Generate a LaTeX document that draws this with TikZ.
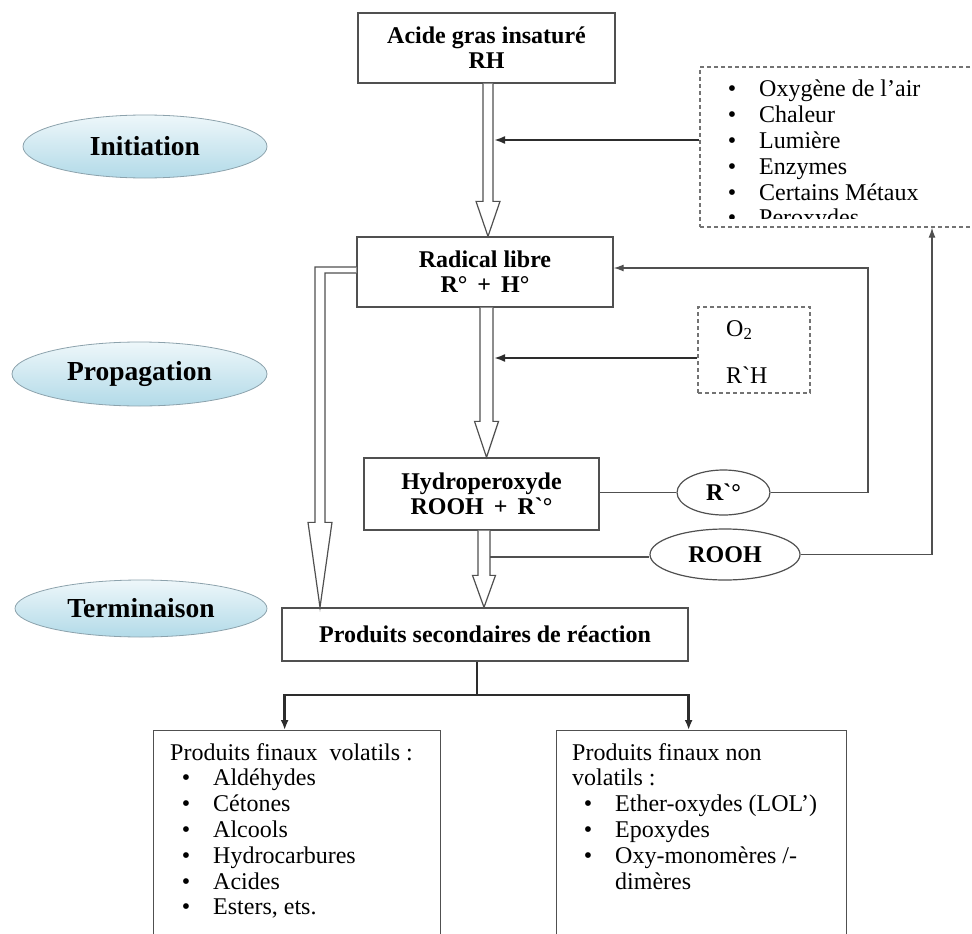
\documentclass[tikz,border=0pt]{standalone}
\usepackage{fontspec}
\setmainfont{Liberation Serif}[Ligatures=TeXOff]
\usetikzlibrary{shapes.geometric,arrows.meta,calc}

\definecolor{phasetop}{RGB}{238,247,250}
\definecolor{phasebot}{RGB}{178,218,232}
\definecolor{phaseedge}{RGB}{140,162,172}
\definecolor{ink}{RGB}{45,45,45}
\definecolor{frame}{RGB}{80,80,80}

\tikzset{
  box/.style={rectangle, draw=frame, line width=1.3pt, inner sep=0pt, align=center,
    font=\fontsize{24}{25}\selectfont\bfseries},
  plainbox/.style={rectangle, draw=frame, line width=1.3pt, inner sep=0pt},
  dbox/.style={rectangle, draw=frame!80, line width=1.3pt, inner sep=0pt,
    dash pattern=on 4pt off 3pt},
  phase/.style={ellipse, draw=phaseedge, line width=0.8pt, inner sep=0pt,
    top color=phasetop, bottom color=phasebot,
    font=\fontsize{27.5}{28}\selectfont\bfseries},
  oval/.style={ellipse, draw=frame, line width=1.2pt, inner sep=0pt, fill=white,
    font=\fontsize{24}{25}\selectfont\bfseries},
  list/.style={inner sep=0pt, align=left, font=\fontsize{24}{25.8}\selectfont},
  txt/.style={inner sep=0pt, font=\fontsize{24}{25}\selectfont},
  hollow/.style={draw=frame, line width=1.2pt, fill=white, line join=miter},
  feed/.style={draw=ink, line width=2pt, -{Latex[length=11pt,width=8pt]}},
  link/.style={draw=frame, line width=1.3pt},
  trunk/.style={draw=ink, line width=2.4pt},
}

% item bullet hanging to the left of the item text
\newcommand{\itemdot}{\llap{\textbullet\hspace{23pt}}}

% vertical block arrow: start point, end point, shaft half width, head half width, head length
\newcommand{\hollowdown}[5]{%
  \draw[hollow] let \p1=(#1), \p2=(#2) in
    ({\x1-#3pt},\y1) -- ({\x1-#3pt},{\y2+#5pt}) -- ({\x1-#4pt},{\y2+#5pt}) -- (\x1,\y2)
    -- ({\x1+#4pt},{\y2+#5pt}) -- ({\x1+#3pt},{\y2+#5pt}) -- ({\x1+#3pt},\y1);}

\begin{document}
\begin{tikzpicture}[x=1pt,y=-1pt]
\useasboundingbox (0,0) rectangle (972,934);
\clip (0,0) rectangle (972,934);

% phase labels
\node[phase, minimum width=244pt, minimum height=63pt] (init) at (145,146.5) {Initiation};
\node[phase, minimum width=255pt, minimum height=64pt] (prop) at (139.5,374) {Propagation};
\node[phase, minimum width=252pt, minimum height=57pt] (term) at (141,608.5) {Terminaison};

% main chain
\node[box, minimum width=257pt, minimum height=70pt] (acid) at (486.5,48) {Acide gras insaturé\\RH};
\node[box, minimum width=256pt, minimum height=70pt] (rad) at (485,272) {Radical libre\\R°\hspace{10pt}+\hspace{10pt}H°};
\node[box, minimum width=235pt, minimum height=72pt] (hyd) at (481.5,494) {Hydroperoxyde\\ROOH\hspace{10pt}+\hspace{10pt}R`°};
\node[box, minimum width=406pt, minimum height=53pt] (prod) at (485,634.5) {Produits secondaires de réaction};

% factors
\node[dbox, minimum width=300pt, minimum height=160pt] (ext) at (850,147) {};
\begin{scope}
  \clip (700,67) rectangle (972,218);
  \node[list, anchor=north west] (extt) at (759,80)
    {\itemdot Oxygène de l’air\\ \itemdot Chaleur\\ \itemdot Lumière\\
     \itemdot Enzymes\\ \itemdot Certains Métaux\\ \itemdot Peroxydes};
\end{scope}

\node[dbox, minimum width=112pt, minimum height=86pt] (o2) at (754,350) {};
\node[txt, anchor=west] (o2a) at (726,330) {O\textsubscript{2}};
\node[txt, anchor=west] (o2b) at (726,375) {R`H};

% recycled species
\node[oval, minimum width=93pt, minimum height=45pt] (rp) at (723.5,492.5) {R`°};
\node[oval, minimum width=150pt, minimum height=51pt] (rooh) at (725,554.5) {ROOH};

% final products
\node[plainbox, anchor=north west, minimum width=287pt, minimum height=260pt] (volb) at (153,730) {};
\node[plainbox, anchor=north west, minimum width=290pt, minimum height=260pt] (nvol) at (556,730) {};
\node[list, anchor=north west] (volt) at (170,743)
  {Produits finaux\ \ volatils :\\
   \hspace*{43pt}\itemdot Aldéhydes\\
   \hspace*{43pt}\itemdot Cétones\\
   \hspace*{43pt}\itemdot Alcools\\
   \hspace*{43pt}\itemdot Hydrocarbures\\
   \hspace*{43pt}\itemdot Acides\\
   \hspace*{43pt}\itemdot Esters, ets.};
\node[list, anchor=north west] (nvolt) at (572,743)
  {Produits finaux non\\
   volatils :\\
   \hspace*{43pt}\itemdot Ether-oxydes (LOL’)\\
   \hspace*{43pt}\itemdot Epoxydes\\
   \hspace*{43pt}\itemdot Oxy-monomères /-\\
   \hspace*{43pt}dimères};

% block arrows of the reaction chain
\hollowdown{[xshift=1.5pt]acid.south}{rad.north}{5}{12}{35}
\hollowdown{[xshift=1.5pt]rad.south}{hyd.north}{6.5}{12}{36}
\hollowdown{[xshift=2.5pt]hyd.south}{prod.north}{6}{11.5}{32}
\draw[hollow] let \p1=(rad.west), \p2=(prod.north) in
  (\x1,{\y1+5pt}) -- (315pt,{\y1+5pt}) -- (315pt,{\y2+85pt}) -- (308pt,{\y2+85pt})
  -- (320pt,\y2) -- (332pt,{\y2+85pt}) -- (325pt,{\y2+85pt}) -- (325pt,{\y1-1pt})
  -- (\x1,{\y1-1pt});

% inputs into the chain
\coordinate (in1) at (494,140);
\draw[feed] (ext.west |- in1) -- (in1);
\coordinate (in2) at (494,358);
\draw[feed] (o2.west |- in2) -- (in2);

% feedback loops
\coordinate (c1) at (868,268);
\draw[link] (rp.west -| hyd.east) -- (rp.west);
\draw[link, -{Latex[length=10pt,width=7pt]}] (rp.east) -| (c1) -- (rad.east |- c1);
\coordinate (j1) at (490,557);
\draw[link] (j1) -- (rooh.west |- j1);
\coordinate (c2) at (932,400);
\draw[link, -{Latex[length=10pt,width=7pt]}] (rooh.east) -| (c2 |- ext.south);

% split towards the final products
\coordinate (split) at (477,695);
\draw[trunk] (prod.south -| split) -- (split);
\draw[trunk, -{Latex[length=10pt,width=8pt]}] (split) -| ([xshift=-12.5pt]volb.north);
\draw[trunk, -{Latex[length=10pt,width=8pt]}] (split) -| ([xshift=-13pt]nvol.north);
\end{tikzpicture}
\end{document}
